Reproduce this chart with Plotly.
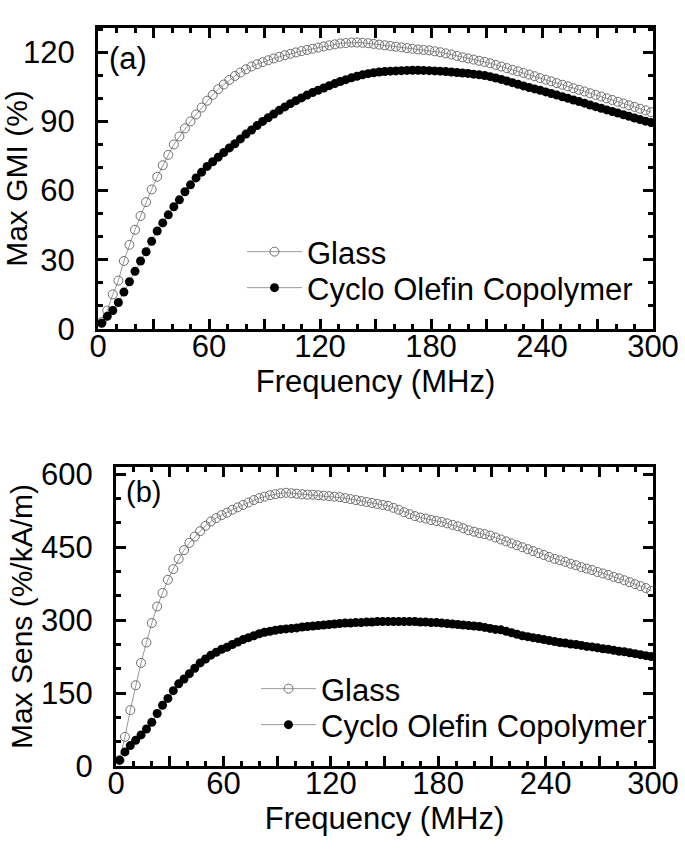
import plotly.graph_objects as go

# ---------------- data ----------------
freq = list(range(2, 300, 3))  # MHz, 100 points

glass_gmi = [
    3, 8, 15, 21, 29.5, 36.5, 43, 49, 55, 60.5,
    66, 71, 75.5, 80, 83.5, 87, 90, 93, 96, 99,
    101.5, 104, 106, 108, 109.7, 111.2, 112.6, 113.8, 114.8, 115.7,
    116.5, 117.3, 118, 118.7, 119.3, 119.9, 120.5, 121, 121.5, 122,
    122.5, 123, 123.4, 123.8, 124, 124.2, 124.2, 124.1, 123.9, 123.6,
    123.3, 123, 122.7, 122.4, 122.1, 121.8, 121.5, 121.2, 121, 120.8,
    120.4, 120, 119.5, 119, 118.4, 117.8, 117.3, 116.8, 116.3, 115.8,
    115.2, 114.5, 113.8, 113.1, 112.4, 111.7, 111, 110.3, 109.6, 108.8,
    108.1, 107.4, 106.6, 105.9, 105.2, 104.4, 103.7, 103, 102.2, 101.5,
    100.8, 100, 99.3, 98.5, 97.8, 97, 96.3, 95.5, 94.8, 94,
]
coc_gmi = [
    2.5, 5.5, 8, 11.5, 16, 20.5, 25, 29.5, 33.5, 38,
    42.5, 46, 49.5, 53, 56, 59.5, 62.5, 65.5, 68, 70.5,
    72.5, 74.5, 76.5, 78.5, 80.3, 82.4, 84.5, 86.3, 88.2, 90,
    91.6, 93.2, 94.8, 96.3, 97.7, 99, 100.2, 101.4, 102.5, 103.5,
    104.5, 105.5, 106.4, 107.3, 108.1, 108.9, 109.6, 110.2, 110.7, 111.1,
    111.4, 111.6, 111.8, 111.9, 112, 112.1, 112.2, 112.2, 112.1, 112,
    111.9, 111.8, 111.6, 111.4, 111.2, 111, 110.8, 110.5, 110.2, 109.9,
    109.4, 108.8, 108.2, 107.5, 106.8, 106.1, 105.4, 104.7, 104.1, 103.5,
    102.8, 102.1, 101.4, 100.7, 100, 99.3, 98.6, 97.9, 97.1, 96.4,
    95.7, 95, 94.3, 93.6, 92.9, 92.2, 91.5, 90.8, 90.1, 89.5,
]
glass_sens = [
    12, 60, 115, 166, 212, 254, 294, 328, 356, 383,
    405, 426, 444, 459, 472, 483, 494, 503, 510, 516,
    521, 527, 532, 537, 542, 547, 551, 554, 557, 559,
    561, 562, 561, 560, 559, 558, 558, 557, 556, 555,
    554, 553, 551, 549, 547, 545, 543, 541, 539, 537,
    535, 531, 527, 522, 518, 514, 511, 509, 506, 504,
    502, 499, 496, 493, 489, 485, 482, 479, 477, 474,
    470, 466, 462, 458, 454, 450, 446, 442, 438, 434,
    430, 426, 423, 420, 416, 413, 409, 406, 403, 399,
    396, 393, 389, 386, 382, 378, 374, 370, 366, 360,
]
coc_sens = [
    12, 29, 42, 53, 64, 76, 90, 108, 125, 139,
    155, 169, 179, 190, 201, 212, 220, 228, 234, 240,
    244, 250, 255, 260, 264, 268, 272, 275, 277, 279,
    281, 282, 283, 284, 286, 287, 288, 289, 290, 291,
    292, 293, 294, 294, 295, 295, 296, 296, 297, 297,
    297, 297, 297, 297, 297, 297, 296, 296, 295, 295,
    294, 293, 292, 291, 290, 289, 288, 287, 285, 283,
    281, 280, 277, 274, 271, 268, 266, 264, 262, 260,
    258, 256, 254, 253, 251, 250, 248, 246, 245, 243,
    241, 240, 238, 236, 235, 233, 231, 229, 227, 225,
]

x_major = [0, 30, 60, 90, 120, 150, 180, 210, 240, 270, 300]
x_labels = ["0", "", "60", "", "120", "", "180", "", "240", "", "300"]
y1_ticks = [0, 30, 60, 90, 120]
y2_ticks = [0, 150, 300, 450, 600]

series_names = ["Glass", "Cyclo Olefin Copolymer"]

# ---------------- styling ----------------
FONT = "Liberation Sans, Arial, sans-serif"
FS = 31
W, H = 685, 849

glass_style = dict(mode="lines+markers",
                   line=dict(color="#9a9a9a", width=1),
                   marker=dict(symbol="circle-open", size=9,
                               color="#6e6e6e", line=dict(width=1, color="#6e6e6e")))
coc_style = dict(mode="lines+markers",
                 line=dict(color="#9a9a9a", width=1),
                 marker=dict(symbol="circle", size=9, color="black"))

fig = go.Figure()
fig.add_trace(go.Scatter(x=freq, y=glass_gmi, name=series_names[0],
                         xaxis="x", yaxis="y", legend="legend", **glass_style))
fig.add_trace(go.Scatter(x=freq, y=coc_gmi, name=series_names[1],
                         xaxis="x", yaxis="y", legend="legend2", **coc_style))
fig.add_trace(go.Scatter(x=freq, y=glass_sens, name=series_names[0],
                         xaxis="x2", yaxis="y2", legend="legend3", **glass_style))
fig.add_trace(go.Scatter(x=freq, y=coc_sens, name=series_names[1],
                         xaxis="x2", yaxis="y2", legend="legend4", **coc_style))


def ax_common():
    return dict(showline=True, linewidth=3, linecolor="black", mirror="ticks",
                ticks="inside", ticklen=10, tickwidth=2.5, tickcolor="black",
                showgrid=False, zeroline=False, automargin=False,
                tickfont=dict(family=FONT, size=FS, color="black"),
                title_font=dict(family=FONT, size=FS, color="black"))


x1 = ax_common()
x1.update(domain=[98 / W, 653 / W], anchor="y", range=[0, 300],
          tickmode="array", tickvals=x_major, ticktext=x_labels,
          minor=dict(dtick=10, tick0=0, ticks="inside", ticklen=5, tickwidth=2.5, tickcolor="black"),
          ticklabelstandoff=-12,
          title=dict(text="Frequency (MHz)", standoff=0))
x2 = dict(x1)
x2.update(domain=[116 / W, 653 / W], anchor="y2",
          title=dict(text="Frequency (MHz)", standoff=0))

y1 = ax_common()
y1.update(domain=[1 - 329 / H, 1 - 28 / H], anchor="x", range=[0, 130.5],
          tickmode="array", tickvals=y1_ticks,
          minor=dict(dtick=10, tick0=0, ticks="inside", ticklen=5, tickwidth=2.5, tickcolor="black"),
          ticklabelstandoff=14,
          title=dict(text="Max GMI (%)", standoff=0,
                     font=dict(family=FONT, size=30, color="black")))
y2 = ax_common()
y2.update(domain=[1 - 766 / H, 1 - 467 / H], anchor="x2", range=[0, 615],
          tickmode="array", tickvals=y2_ticks,
          minor=dict(dtick=50, tick0=0, ticks="inside", ticklen=5, tickwidth=2.5, tickcolor="black"),
          ticklabelstandoff=14,
          title=dict(text="Max Sens (%/kA/m)", standoff=0,
                     font=dict(family=FONT, size=30, color="black")))

legend_font = dict(family=FONT, size=FS, color="black")


def leg(px_x, px_y):
    return dict(x=px_x / W, y=1 - px_y / H, xanchor="left", yanchor="middle",
                bgcolor="rgba(0,0,0,0)", font=legend_font, itemwidth=55,
                tracegroupgap=0)


fig.update_layout(
    width=W, height=H,
    margin=dict(l=0, r=0, t=0, b=0, autoexpand=False),
    paper_bgcolor="white", plot_bgcolor="white",
    font=dict(family=FONT, size=FS, color="black"),
    xaxis=x1, yaxis=y1, xaxis2=x2, yaxis2=y2,
    legend=leg(242, 252), legend2=leg(242, 288),
    legend3=leg(256, 689), legend4=leg(256, 725),
    showlegend=True,
    annotations=[
        dict(text="(a)", x=0.017, y=0.965, xref="x domain", yref="y domain",
             xanchor="left", yanchor="top", showarrow=False,
             font=dict(family=FONT, size=31, color="black")),
        dict(text="(b)", x=0.015, y=0.975, xref="x2 domain", yref="y2 domain",
             xanchor="left", yanchor="top", showarrow=False,
             font=dict(family=FONT, size=29, color="black")),
    ],
)

fig.write_html("out.html", config={"displayModeBar": False},
               post_script="document.body.style.margin='0px';")
